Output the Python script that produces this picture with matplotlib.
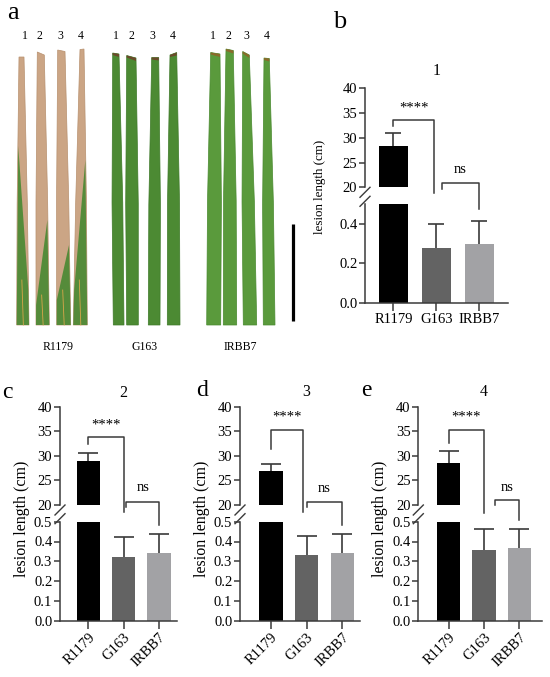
import matplotlib.pyplot as plt
from matplotlib.patches import Polygon

plt.rcParams['font.family'] = 'serif'
plt.rcParams['font.serif'] = ['Liberation Serif', 'DejaVu Serif']

W, H = 550, 677

# lesion length (cm) for each leaf position, mean and sd
categories = ['R1179', 'G163', 'IRBB7']
bar_colors = ['#000000', '#636363', '#a2a2a5']

mean_1 = [28.4, 0.277, 0.299]
sd_1 = [2.5, 0.123, 0.116]
mean_2 = [28.95, 0.32, 0.34]
sd_2 = [1.65, 0.104, 0.10]
mean_3 = [27.0, 0.33, 0.34]
sd_3 = [1.3, 0.097, 0.097]
mean_4 = [28.5, 0.356, 0.366]
sd_4 = [2.5, 0.105, 0.096]

panel_titles = ['1', '2', '3', '4']
panel_letters = ['b', 'c', 'd', 'e']
sig_labels = ['****', 'ns']

AXC = '#3a3a3a'


def frac(x0, y0, x1, y1):
    # pixel box (top-left origin) -> figure fraction rect
    return [x0 / W, 1 - y1 / H, (x1 - x0) / W, (y1 - y0) / H]


fig = plt.figure(figsize=(5.5, 6.77), dpi=100)

# ---------------- panel a: leaf photograph (drawn) ----------------
ax_a = fig.add_axes([0, 0, 1, 1], zorder=0)
ax_a.set_xlim(0, W)
ax_a.set_ylim(H, 0)
ax_a.axis('off')

# (top-left x, top-right x, top-left y, top-right y, bottom-left x, bottom-right x)
leaves_r1179 = [(19, 24, 57, 57, 16.7, 29), (37.3, 44.3, 52, 55, 36, 49.3),
                (57.7, 65, 50, 51.5, 56.7, 70.7), (80, 84, 49.5, 49, 73.3, 87.3)]
leaves_g163 = [(112.7, 119, 53, 54, 113.3, 124), (126.7, 136, 55.5, 58, 126.7, 138.3),
               (151.7, 158.7, 57.5, 57.5, 148.3, 160), (170, 176.7, 55, 52.5, 167.3, 180)]
leaves_irbb7 = [(210.7, 220, 52.5, 54, 206.7, 220.7), (226, 233.3, 49, 50.5, 223.3, 236.7),
                (242.7, 249.3, 51.5, 55, 243.3, 256.7), (264, 269.3, 58, 58.5, 263.3, 275)]
leaf_bottom = 325
# where the green part of the diseased leaves starts (left edge y, right edge y)
green_start = [(146, 290), (305, 220), (300, 245), (290, 160)]


def leaf_poly(lf, bulge=1.0):
    xtl, xtr, ytl, ytr, xbl, xbr = lf
    ym = ytl + 0.55 * (leaf_bottom - ytl)
    t = 0.55
    xml = xtl + t * (xbl - xtl) - bulge
    xmr = xtr + t * (xbr - xtr) + bulge
    return [(xtl, ytl), (xtr, ytr), (xmr, ym), (xbr, leaf_bottom),
            (xbl, leaf_bottom), (xml, ym)]


def edge_x(lf, y, side):
    xtl, xtr, ytl, ytr, xbl, xbr = lf
    if side == 'l':
        return xtl + (y - ytl) / (leaf_bottom - ytl) * (xbl - xtl)
    return xtr + (y - ytr) / (leaf_bottom - ytr) * (xbr - xtr)


for lf, gs in zip(leaves_r1179, green_start):
    ax_a.add_patch(Polygon(leaf_poly(lf, 0.6), closed=True, fc='#cba585', ec='#b8916f', lw=0.5))
    yl, yr = gs
    pts = [(edge_x(lf, yl, 'l'), yl), (edge_x(lf, leaf_bottom, 'l'), leaf_bottom),
           (edge_x(lf, leaf_bottom, 'r'), leaf_bottom), (edge_x(lf, yr, 'r'), yr)]
    ax_a.add_patch(Polygon(pts, closed=True, fc='#4f8a36', ec='none', alpha=0.95))
    # yellow streaks
    xm = 0.5 * (edge_x(lf, leaf_bottom, 'l') + edge_x(lf, leaf_bottom, 'r'))
    ax_a.plot([xm - 1, xm + 0.5], [max(yl, yr) - 10, leaf_bottom], color='#d9a64a', lw=0.6)

for lf in leaves_g163:
    ax_a.add_patch(Polygon(leaf_poly(lf), closed=True, fc='#4c8a33', ec='#3f7a2a', lw=0.5))
    ax_a.add_patch(Polygon([(lf[0], lf[2]), (lf[1], lf[3]), (lf[1], lf[3] + 3), (lf[0], lf[2] + 2)],
                           closed=True, fc='#6b4a2a', ec='none'))
for lf in leaves_irbb7:
    ax_a.add_patch(Polygon(leaf_poly(lf), closed=True, fc='#5a9a3c', ec='#4a8a30', lw=0.5))
    ax_a.add_patch(Polygon([(lf[0], lf[2]), (lf[1], lf[3]), (lf[1], lf[3] + 3), (lf[0], lf[2] + 2)],
                           closed=True, fc='#8a6a2a', ec='none'))

leaf_num_x = [25, 39, 60, 81, 116, 131, 152, 173, 213, 228, 246, 267]
for i, x in enumerate(leaf_num_x):
    ax_a.text(x, 36, str(i % 4 + 1), ha='center', va='center', fontsize=8.5)
for name, x in zip(categories, [58, 145, 240]):
    ax_a.text(x, 347, name, ha='center', va='center', fontsize=8.5)
# scale bar
ax_a.plot([293, 293], [224, 321], color='black', lw=2.3, solid_capstyle='butt')

ax_a.text(13, 13, 'a', ha='center', va='center', fontsize=19)

# ---------------- panels b-e: broken-axis bar charts ----------------
panels = [
    dict(x=(365, 507.7), up=(88.3, 187.3), lo=(204.3, 302.7), xlim=(-0.66, 2.66),
         lo_ticks=[0.0, 0.2, 0.4], cap=6, rot=0,
         star=(33.6, 32.3, 18.8, 0.94), ns=(20.8, 19.65, 15.6, 1.12),
         star_y=36.0, ns_y=23.5, title_y=43.5,
         letter=(340, 22.5), ylab=(320, 187), ylab_fs=9.4),
    dict(x=(60, 176.7), up=(406.7, 505), lo=(521.7, 620.7), xlim=(-0.8, 2.5),
         lo_ticks=[0.0, 0.1, 0.2, 0.3, 0.4, 0.5], cap=7, rot=45,
         star=(33.8, 32.4, 18.6, 1.0), ns=(20.7, 19.65, 15.9, 1.08),
         star_y=36.3, ns_y=23.5, title_y=42.8,
         letter=(7, 392), ylab=(22, 518.5), ylab_fs=11.5),
    dict(x=(240, 360), up=(406.7, 505), lo=(521.7, 620.7), xlim=(-0.86, 2.49),
         lo_ticks=[0.0, 0.1, 0.2, 0.3, 0.4, 0.5], cap=7, rot=45,
         star=(35.3, 31.4, 18.5, 0.91), ns=(20.7, 19.6, 16.0, 1.0),
         star_y=37.8, ns_y=23.3, title_y=42.9,
         letter=(201.7, 390), ylab=(201.7, 519), ylab_fs=11.5),
    dict(x=(418.3, 541.7), up=(406.7, 505), lo=(521.7, 620.7), xlim=(-0.87, 2.64),
         lo_ticks=[0.0, 0.1, 0.2, 0.3, 0.4, 0.5], cap=7, rot=45,
         star=(35.3, 32.6, 18.4, 1.0), ns=(21.1, 19.9, 17.0, 1.3),
         star_y=37.8, ns_y=23.6, title_y=42.9,
         letter=(366.7, 391), ylab=(380, 519), ylab_fs=11.5),
]
means = [mean_1, mean_2, mean_3, mean_4]
sds = [sd_1, sd_2, sd_3, sd_4]

xpos = list(range(len(categories)))

for p, m, s, title, letter in zip(panels, means, sds, panel_titles, panel_letters):
    x0, x1 = p['x']
    ax_up = fig.add_axes(frac(x0, p['up'][0], x1, p['up'][1]), zorder=2)
    ax_lo = fig.add_axes(frac(x0, p['lo'][0], x1, p['lo'][1]), zorder=2)
    ax_up.patch.set_alpha(0)
    ax_lo.patch.set_alpha(0)
    tops = [a + b for a, b in zip(m, s)]

    for ax in (ax_up, ax_lo):
        ax.bar(xpos, m, width=0.66, color=bar_colors, zorder=2)
        # upper-only error bars, no cap on the bar top
        ax.vlines(xpos, m, tops, color=AXC, lw=1.2, zorder=3)
        ax.plot(xpos, tops, ls='none', marker='_', ms=2 * p['cap'], mew=1.2,
                color=AXC, zorder=3)
        ax.set_xlim(*p['xlim'])
        ax.spines['top'].set_visible(False)
        ax.spines['right'].set_visible(False)
        ax.spines['left'].set_color(AXC)
        ax.spines['bottom'].set_color(AXC)
        ax.spines['left'].set_linewidth(1.1)
        ax.spines['bottom'].set_linewidth(1.1)
        ax.tick_params(colors=AXC, labelcolor='black', labelsize=10.5, width=1.1, length=4, pad=1.5)

    ax_up.set_ylim(20, 40)
    ax_up.set_yticks([20, 25, 30, 35, 40])
    ax_up.spines['bottom'].set_visible(False)
    ax_up.tick_params(axis='x', bottom=False, labelbottom=False)

    ax_lo.set_ylim(0, 0.5)
    ax_lo.set_yticks(p['lo_ticks'])
    ax_lo.set_yticklabels([f'{v:.1f}' for v in p['lo_ticks']])
    ax_lo.set_xticks(xpos)
    ax_lo.tick_params(axis='x', length=6)
    if p['rot']:
        ax_lo.set_xticklabels(categories, rotation=45, ha='right', rotation_mode='anchor')
    else:
        ax_lo.set_xticklabels(categories)

    # break marks on the y axis
    wpx = x1 - x0
    hu = p['up'][1] - p['up'][0]
    hl = p['lo'][1] - p['lo'][0]
    ax_up.plot([-5 / wpx, 5 / wpx], [-10 / hu, 0 / hu], transform=ax_up.transAxes,
               color=AXC, lw=1.0, clip_on=False)
    ax_lo.plot([-5 / wpx, 5 / wpx], [1 - 2 / hl, 1 + 8 / hl], transform=ax_lo.transAxes,
               color=AXC, lw=1.0, clip_on=False)

    # significance brackets
    top, left_bot, right_bot, right_x = p['star']
    ax_up.plot([0, 0, right_x, right_x], [left_bot, top, top, right_bot],
               color=AXC, lw=1.1, clip_on=False)
    ax_up.text(right_x / 2, p['star_y'], sig_labels[0], ha='center', va='center', fontsize=10.5)
    top, left_bot, right_bot, left_x = p['ns']
    ax_up.plot([left_x, left_x, 2, 2], [left_bot, top, top, right_bot],
               color=AXC, lw=1.1, clip_on=False)
    ax_up.text((left_x + 2) / 2, p['ns_y'], sig_labels[1], ha='center', va='center', fontsize=10.5)

    ax_up.text(1, p['title_y'], title, ha='center', va='center', fontsize=11.5, clip_on=False)

    lx, ly = p['letter']
    fig.text(lx / W, 1 - ly / H, letter, ha='center', va='center',
             fontsize=19 if letter == 'b' else 17)
    yx, yy = p['ylab']
    fig.text(yx / W, 1 - yy / H, 'lesion length (cm)', rotation=90,
             ha='center', va='center', fontsize=p['ylab_fs'])

fig.savefig('out.png', dpi=100)
